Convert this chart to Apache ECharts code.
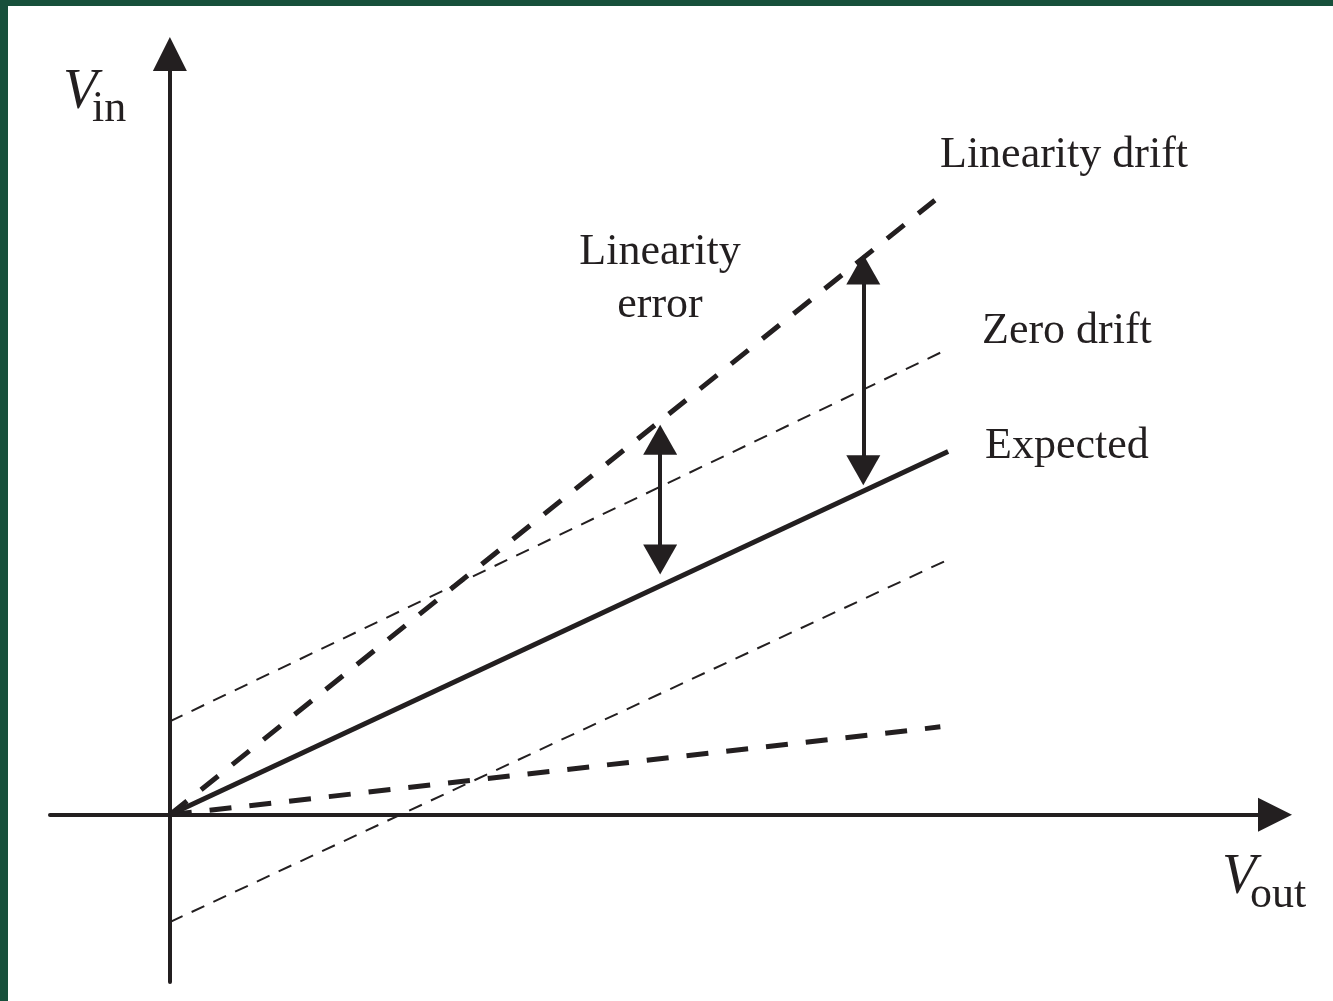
<!DOCTYPE html>
<html>
<head>
<meta charset="utf-8">
<title>Linearity and zero drift</title>
<script src="https://cdn.jsdelivr.net/npm/echarts@6/dist/echarts.min.js"></script>
<style>
  html, body { margin: 0; padding: 0; background: #17503b; }
  #chart {
    position: absolute;
    left: 8px;
    top: 6px;
    width: 1325px;
    height: 995px;
    background: #fff;
  }
</style>
</head>
<body>
<div id="chart"></div>
<script>
// axis extents (Vout horizontally, Vin vertically), arbitrary units
const xRange = [-15.4, 142.0];
const yRange = [-21.5, 97.8];

// lines as [Vout, Vin] end points
const expected = [[0, 0], [100, 46.7]];
const zeroDriftUp = [[0, 12.0], [99.2, 59.5]];
const zeroDriftDown = [[0, -13.8], [100, 32.8]];
const linearityDriftUp = [[0, 0], [98.3, 79.0]];
const linearityDriftDown = [[0, 0], [99.0, 11.3]];

// double arrows marking the error
const errorArrows = [
  [[63.0, 48.2], [63.0, 32.8]],
  [[89.1, 70.1], [89.1, 44.3]]
];

const ink = "#231f20";
const serif = "Liberation Serif";

const chart = echarts.init(document.getElementById("chart"));

const axisCommon = {
  type: "value",
  axisLine: {
    show: true,
    onZero: true,
    symbol: ["none", "triangle"],
    symbolSize: [34, 34],
    lineStyle: { color: ink, width: 4 },
  },
  axisTick: { show: false },
  axisLabel: { show: false },
  splitLine: { show: false },
};

function dashed(name, data, width, dash) {
  return {
    name,
    type: "line",
    data,
    showSymbol: false,
    silent: true,
    lineStyle: { color: ink, width, type: dash, cap: "butt" },
  };
}

function label(text, x, y, size, extra) {
  return {
    type: "text",
    x,
    y,
    silent: true,
    style: Object.assign(
      {
        text,
        fill: ink,
        font: size + "px '" + serif + "'",
        textVerticalAlign: "middle",
      },
      extra || {}
    ),
  };
}

const options = {
  animation: false,
  grid: { left: 42, right: 58, top: 48, bottom: 19 },
  xAxis: Object.assign({}, axisCommon, { min: xRange[0], max: xRange[1] }),
  yAxis: Object.assign({}, axisCommon, { min: yRange[0], max: yRange[1] }),
  series: [
    dashed("Zero drift", zeroDriftUp, 2, [14, 10]),
    dashed("Zero drift low", zeroDriftDown, 2, [14, 10]),
    dashed("Linearity drift", linearityDriftUp, 5, [22, 18]),
    dashed("Linearity drift low", linearityDriftDown, 5, [22, 18]),
    {
      name: "Expected",
      type: "line",
      data: expected,
      showSymbol: false,
      silent: true,
      lineStyle: { color: ink, width: 5 },
      markLine: {
        silent: true,
        symbol: ["triangle", "triangle"],
        symbolSize: [34, 30],
        label: { show: false },
        lineStyle: { color: ink, width: 4, type: "solid" },
        emphasis: { disabled: true },
        data: errorArrows.map((a) => [{ coord: a[0] }, { coord: a[1] }]),
      },
    },
  ],
  graphic: [
    label("V", 55, 87, 56, { font: "italic 56px '" + serif + "'" }),
    label("in", 84, 103, 44),
    label("V", 1214, 872, 56, { font: "italic 56px '" + serif + "'" }),
    label("out", 1242, 889, 44),
    label("Linearity drift", 932, 149, 44),
    label("Linearity", 652, 246, 44, { textAlign: "center" }),
    label("error", 652, 299, 44, { textAlign: "center" }),
    label("Zero drift", 974, 325, 44),
    label("Expected", 977, 440, 44),
  ],
};

chart.setOption(options);
</script>
</body>
</html>
